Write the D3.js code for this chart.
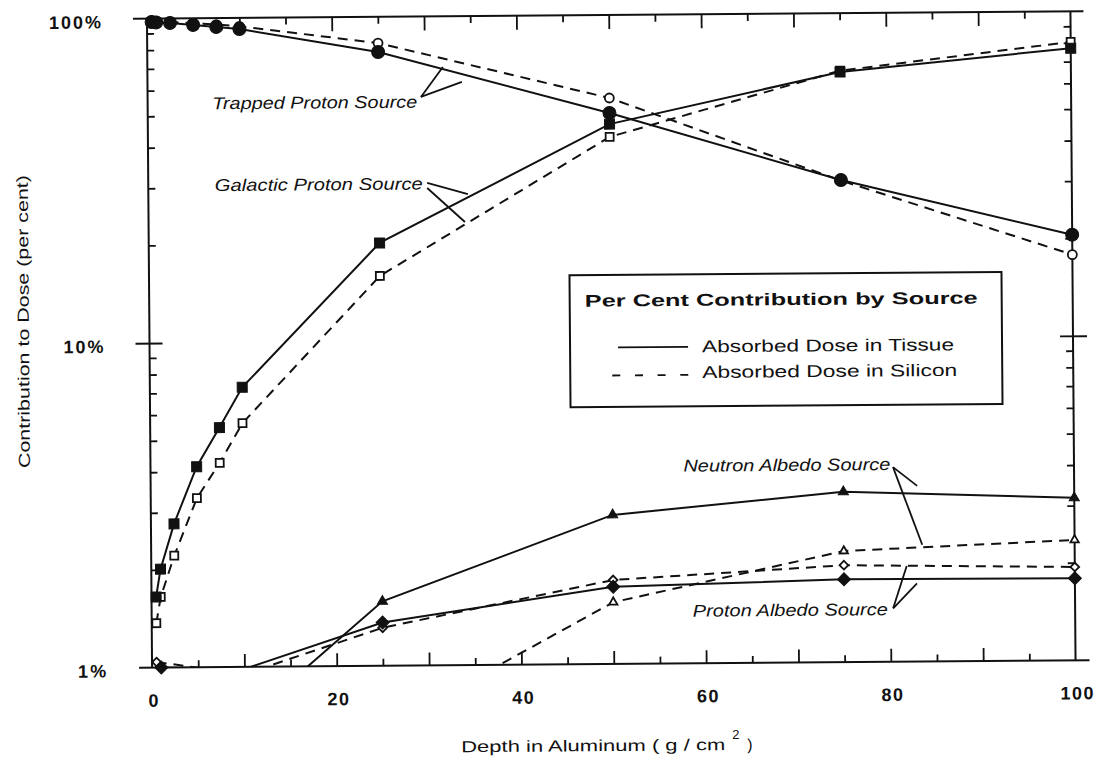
<!DOCTYPE html>
<html><head><meta charset="utf-8">
<script src="https://cdn.jsdelivr.net/npm/d3@7"></script>
<style>
html,body{margin:0;padding:0;background:#fff;}
svg{display:block;}
text{font-family:"Liberation Sans",Arial,Helvetica,sans-serif;fill:#111;}
</style></head><body>
<svg id="chart" width="1102" height="758"></svg>
<script>
// Depth in aluminum (g/cm^2) and per-cent contribution to dose by source
const depths = [0.5, 1, 2.5, 5, 7.5, 10, 25, 50, 75, 100];
const trappedTissue  = [97.6, 97.3, 96.9, 95.4, 93.9, 92.4, 77.9, 49.9, 30.6, 20.5];
const trappedSilicon = [98.5, 98.2, 97.6, 96.5, 95.5, 94.2, 83.0, 55.5, 30.5, 17.8];
const galacticTissue  = [1.65, 2.01, 2.77, 4.15, 5.47, 7.27, 20.1, 46.1, 65.9, 77.0];
const galacticSilicon = [1.37, 1.65, 2.21, 3.32, 4.26, 5.64, 15.9, 42.1, 66.5, 80.5];
const neutronDepthsTissue = [10, 25, 50, 75, 100];
const neutronTissue       = [0.68, 1.58, 2.88, 3.35, 3.17];
const neutronDepthsSilicon = [25, 50, 75, 100];
const neutronSilicon       = [0.64, 1.55, 2.20, 2.35];
const albedoDepthsTissue = [1, 10, 25, 50, 75, 100];
const albedoTissue       = [1.0, 0.985, 1.36, 1.73, 1.80, 1.79];
const albedoDepthsSilicon = [0.5, 10, 25, 50, 75, 100];
const albedoSilicon       = [1.04, 0.95, 1.31, 1.815, 1.99, 1.94];

const xTickLabels = [0, 20, 40, 60, 80, 100];
const yTickLabels = [1, 10, 100];
const legendTitle = "Per Cent Contribution by Source";
const legendItems = ["Absorbed Dose in Tissue", "Absorbed Dose in Silicon"];

// source labels with leader lines, positioned in data units [depth, per cent]
const annotations = [
  {text: "Trapped Proton Source", at: [7.0, 52.4], len: 205,
   leaders: [[[29.6, 56.5], [32.0, 69.8]], [[29.6, 56.5], [34.05, 62.7]]]},
  {text: "Galactic Proton Source", at: [7.2, 29.3], len: 208,
   leaders: [[[30.2, 30.7], [34.6, 28.3]], [[30.2, 29.6], [34.26, 23.2]]]},
  {text: "Neutron Albedo Source", at: [57.7, 3.90], len: 207,
   leaders: [[[80.4, 3.98], [83.5, 2.29]], [[80.4, 3.98], [83.0, 3.48]]]},
  {text: "Proton Albedo Source", at: [58.6, 1.393], len: 195,
   leaders: [[[80.3, 1.462], [81.8, 1.972]], [[80.3, 1.462], [82.9, 1.743]]]}
];

const svg = d3.select("#chart");
const ink = "#111";
const g = svg.append("g").attr("transform", "rotate(-0.45 611 340)");

const x = d3.scaleLinear().domain([0, 100]).range([149.5, 1073]);
const y = d3.scaleLog().domain([1, 100]).range([664, 15]);

// ---- frame ----
const frame = g.append("g").attr("stroke", ink).attr("stroke-width", 2);
frame.append("line").attr("x1", x(0) - 14).attr("x2", x(100) + 13).attr("y1", y(100)).attr("y2", y(100));
frame.append("line").attr("x1", x(0) - 13).attr("x2", x(100) + 14).attr("y1", y(1)).attr("y2", y(1));
frame.append("line").attr("x1", x(0)).attr("x2", x(0)).attr("y1", y(100)).attr("y2", y(1));
frame.append("line").attr("x1", x(100)).attr("x2", x(100)).attr("y1", y(100)).attr("y2", y(1));

function styleTicks(sel) {
  sel.select(".domain").remove();
  sel.selectAll(".tick line").attr("stroke", ink).attr("stroke-width", 1.8);
}

// ---- x ticks (every 5, longer on tens) ----
const xMinor = d3.range(5, 100, 5);
g.append("g").attr("transform", `translate(0,${y(1)})`)
  .call(d3.axisBottom(x).tickValues(xMinor).tickFormat("").tickSizeOuter(0))
  .call(styleTicks)
  .selectAll(".tick line").attr("y2", d => d % 10 === 0 ? -13 : -7);
g.append("g").attr("transform", `translate(0,${y(100)})`)
  .call(d3.axisTop(x).tickValues(xMinor).tickFormat("").tickSizeOuter(0))
  .call(styleTicks)
  .selectAll(".tick line").attr("y2", d => d % 10 === 0 ? 14 : 7);

const tickFont = '"Liberation Sans",Arial,sans-serif';
const xLab = g.append("g").attr("transform", `translate(0,${y(1)})`)
  .call(d3.axisBottom(x).tickValues(xTickLabels).tickSize(0).tickPadding(0).tickFormat(d3.format("d")));
xLab.select(".domain").remove();
xLab.selectAll("text").attr("y", 39).attr("dy", null).attr("dx", "0.08em")
  .attr("font-size", 18).attr("font-weight", "bold").attr("fill", ink)
  .attr("letter-spacing", 1.5)
  .style("font-family", tickFont);

// ---- y ticks (log minors inward, decade tick crossing the axis) ----
const yMinor = [2,3,4,5,6,7,8,9,20,30,40,50,60,70,80,90];
g.append("g").attr("transform", `translate(${x(0)},0)`)
  .call(d3.axisLeft(y).tickValues(yMinor.concat([10])).tickFormat("").tickSizeOuter(0))
  .call(styleTicks)
  .selectAll(".tick line").attr("x1", d => d === 10 ? -14 : 0).attr("x2", d => d === 10 ? 13 : 7);
g.append("g").attr("transform", `translate(${x(100)},0)`)
  .call(d3.axisRight(y).tickValues(yMinor.concat([10])).tickFormat("").tickSizeOuter(0))
  .call(styleTicks)
  .selectAll(".tick line").attr("x1", d => d === 10 ? 14 : 0).attr("x2", d => d === 10 ? -13 : -7);

const yLab = g.append("g").attr("transform", `translate(${x(0)},0)`)
  .call(d3.axisLeft(y).tickValues(yTickLabels).tickSize(0).tickPadding(44).tickFormat(d => d + "%"));
yLab.select(".domain").remove();
yLab.selectAll("text").attr("dy", "0.5em")
  .attr("font-size", 18).attr("font-weight", "bold").attr("fill", ink)
  .attr("letter-spacing", 2)
  .style("font-family", tickFont);

// ---- axis titles ----
g.append("text").attr("transform", "translate(29,317) rotate(-90)")
  .attr("text-anchor", "middle").attr("font-size", 16)
  .attr("textLength", 293).attr("lengthAdjust", "spacingAndGlyphs")
  .text("Contribution to Dose (per cent)");
g.append("text").attr("x", 458).attr("y", 751).attr("font-size", 16)
  .attr("textLength", 264).attr("lengthAdjust", "spacingAndGlyphs")
  .text("Depth in Aluminum ( g / cm");
g.append("text").attr("x", 729).attr("y", 740).attr("font-size", 13).text("2");
g.append("text").attr("x", 744).attr("y", 751).attr("font-size", 16).text(")");

// ---- data lines ----
g.append("clipPath").attr("id", "plotClip").append("rect")
  .attr("x", x(0)).attr("y", y(100) - 2).attr("width", x(100) - x(0)).attr("height", y(1) - y(100) + 2);

const series = [
  {xs: depths, ys: trappedSilicon, dash: true,  sym: "circle",   fill: false},
  {xs: depths, ys: galacticSilicon, dash: true, sym: "square",   fill: false},
  {xs: neutronDepthsSilicon, ys: neutronSilicon, dash: true, sym: "triangle", fill: false},
  {xs: albedoDepthsSilicon, ys: albedoSilicon, dash: true, sym: "diamond", fill: false},
  {xs: depths, ys: trappedTissue, dash: false,  sym: "circle",   fill: true},
  {xs: depths, ys: galacticTissue, dash: false, sym: "square",   fill: true},
  {xs: neutronDepthsTissue, ys: neutronTissue, dash: false, sym: "triangle", fill: true},
  {xs: albedoDepthsTissue, ys: albedoTissue, dash: false, sym: "diamond", fill: true}
];

const line = d3.line().x(d => x(d[0])).y(d => y(d[1]));
const lines = g.append("g").attr("clip-path", "url(#plotClip)");
series.forEach(s => {
  const pts = s.xs.map((d, i) => [d, s.ys[i]]);
  lines.append("path").datum(pts).attr("d", line)
    .attr("fill", "none").attr("stroke", ink).attr("stroke-width", 2)
    .attr("stroke-dasharray", s.dash ? "10,7" : null);
});

function symbolPath(kind, filled) {
  if (kind === "circle") return d3.symbol(d3.symbolCircle, filled ? Math.PI * 6.5 * 6.5 : Math.PI * 4.5 * 4.5)();
  if (kind === "square") return d3.symbol(d3.symbolSquare, filled ? 100 : 64)();
  if (kind === "triangle") return d3.symbol(d3.symbolTriangle, filled ? 45 : 30)();
  return d3.symbol(d3.symbolSquare, filled ? 85 : 38)();
}

const marks = g.append("g");
series.forEach(s => {
  const pts = s.xs.map((d, i) => [d, s.ys[i]]).filter(p => p[1] >= 0.99);
  marks.selectAll(null).data(pts).join("path")
    .attr("transform", d => `translate(${x(d[0])},${y(d[1])})` + (s.sym === "diamond" ? " rotate(45)" : ""))
    .attr("d", symbolPath(s.sym, s.fill))
    .attr("fill", s.fill ? ink : "#fff")
    .attr("stroke", ink).attr("stroke-width", s.fill ? 1 : 1.8);
});

// ---- source labels ----
const ann = g.append("g");
annotations.forEach(a => {
  ann.append("text").attr("x", x(a.at[0])).attr("y", y(a.at[1]))
    .attr("font-size", 17).attr("font-style", "italic")
    .attr("textLength", a.len).attr("lengthAdjust", "spacingAndGlyphs")
    .text(a.text);
  a.leaders.forEach(l => {
    ann.append("line")
      .attr("x1", x(l[0][0])).attr("y1", y(l[0][1]))
      .attr("x2", x(l[1][0])).attr("y2", y(l[1][1]))
      .attr("stroke", ink).attr("stroke-width", 1.8);
  });
});

// ---- legend ----
const lg = g.append("g");
lg.append("rect").attr("x", 570).attr("y", 275).attr("width", 432).attr("height", 132)
  .attr("fill", "#fff").attr("stroke", ink).attr("stroke-width", 2);
lg.append("text").attr("x", 585).attr("y", 306.5).attr("font-size", 17).attr("font-weight", "bold")
  .attr("textLength", 393).attr("lengthAdjust", "spacingAndGlyphs").text(legendTitle);
lg.append("line").attr("x1", 618).attr("x2", 688).attr("y1", 347.5).attr("y2", 347.5)
  .attr("stroke", ink).attr("stroke-width", 1.8);
lg.append("line").attr("x1", 612).attr("x2", 688).attr("y1", 375.5).attr("y2", 375.5)
  .attr("stroke", ink).attr("stroke-width", 1.8).attr("stroke-dasharray", "8,14.67");
lg.append("text").attr("x", 702).attr("y", 353).attr("font-size", 17)
  .attr("textLength", 252).attr("lengthAdjust", "spacingAndGlyphs").text(legendItems[0]);
lg.append("text").attr("x", 702).attr("y", 378.6).attr("font-size", 17)
  .attr("textLength", 255).attr("lengthAdjust", "spacingAndGlyphs").text(legendItems[1]);
</script>
</body></html>
